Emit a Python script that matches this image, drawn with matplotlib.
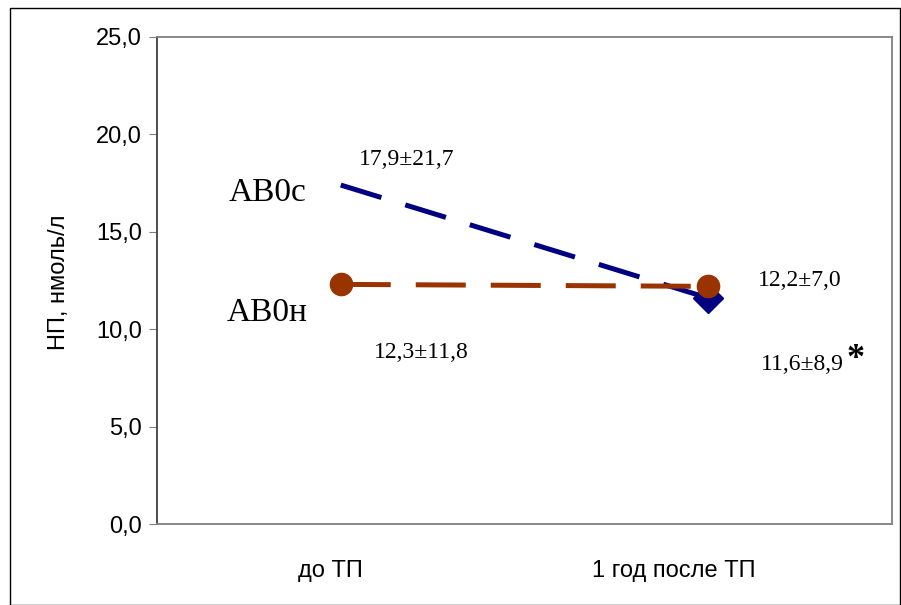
import matplotlib
matplotlib.use("Agg")
import matplotlib.pyplot as plt
import matplotlib.transforms as mtransforms
from matplotlib.patches import Rectangle

categories = ["до ТП", "1 год после ТП"]
ab0c = [17.4, 11.6]
ab0n = [12.3, 12.2]
yticks = [0, 5, 10, 15, 20, 25]
ytick_labels = ["0,0", "5,0", "10,0", "15,0", "20,0", "25,0"]

W, H = 901, 605
fig = plt.figure(figsize=(W / 100, H / 100), dpi=100)
fig.patch.set_facecolor("white")
fig.patches.append(Rectangle((10 / W, 0), 890 / W, 1 - 8 / H, transform=fig.transFigure,
                             fill=False, edgecolor="black", linewidth=1.0))

ax = fig.add_axes([157 / W, 1 - 524 / H, (892 - 157) / W, (524 - 37) / H])
x = list(range(len(categories)))

ax.plot(x, ab0n, color="#993300", linewidth=3.6, dashes=(10, 5), marker="o",
        markersize=16, markerfacecolor="#993300", markeredgecolor="#993300", zorder=3)
ax.plot(x, ab0c, color="#000080", linewidth=3.6, dashes=(8.5, 5), marker="D",
        markevery=[1], markersize=15, markerfacecolor="#000080", markeredgecolor="#000080", zorder=2)

ax.set_xlim(-0.5, 1.5)
ax.set_ylim(0, 25)
ax.set_yticks(yticks)
ax.set_yticklabels(ytick_labels, fontsize=17, family="Liberation Sans")
ax.set_xticks(x)
ax.set_xticklabels(categories, fontsize=17, family="Liberation Sans")
ax.tick_params(axis="x", length=0, pad=26)
ax.tick_params(axis="y", length=6, color="#808080", direction="out", pad=5)
shifts = [-10, -34]
for lab, dx in zip(ax.get_xticklabels(), shifts):
    lab.set_transform(lab.get_transform() + mtransforms.ScaledTranslation(dx / 100, 0, fig.dpi_scale_trans))
for s in ax.spines.values():
    s.set_color("#808080")
    s.set_linewidth(1.3)
ax.spines["left"].set_color("#404040")
ax.set_ylabel("НП, нмоль/л", fontsize=17, family="Liberation Sans")
ax.yaxis.set_label_coords(-0.118, 0.497)

serif = "Liberation Serif"
ax.text(-0.2, 17.0, "АВ0с", fontsize=24, family=serif, ha="center", va="center")
ax.text(-0.2, 10.85, "АВ0н", fontsize=24, family=serif, ha="center", va="center")
ax.text(0.18, 18.7, "17,9±21,7", fontsize=17, family=serif, ha="center", va="center")
ax.text(0.22, 8.8, "12,3±11,8", fontsize=17, family=serif, ha="center", va="center")
ax.text(1.25, 12.5, "12,2±7,0", fontsize=17, family=serif, ha="center", va="center")
ax.text(1.255, 8.2, "11,6±8,9", fontsize=17, family=serif, ha="center", va="center")
ax.text(1.40, 8.45, "*", fontsize=26, family=serif, ha="center", va="center", fontweight="bold")

fig.savefig("out.png", dpi=100)
